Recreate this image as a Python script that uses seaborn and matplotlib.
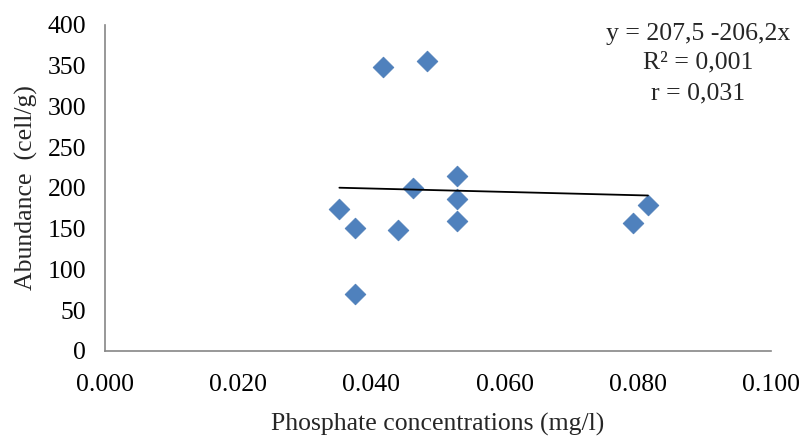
import matplotlib
matplotlib.use("Agg")
import matplotlib.pyplot as plt
import seaborn as sns
import numpy as np
import pandas as pd

phosphate = [0.0352, 0.0375, 0.0375, 0.0418, 0.0440, 0.0463, 0.0484, 0.0528, 0.0528, 0.0528, 0.0792, 0.0815]
abundance = [174, 151, 70, 348, 148, 200, 356, 215, 187, 160, 157, 179]
intercept, slope = 207.5, -206.2
eq_lines = ["y = 207,5 -206,2x", "R² = 0,001", "r = 0,031"]
x_ticks = [0.0, 0.02, 0.04, 0.06, 0.08, 0.10]
y_ticks = [0, 50, 100, 150, 200, 250, 300, 350, 400]

sns.set_style("white")
plt.rcParams['font.family'] = ['Liberation Serif', 'DejaVu Serif']

df = pd.DataFrame({"x": phosphate, "y": abundance})
fig = plt.figure(figsize=(8, 4.36), dpi=100)
ax = fig.add_axes([0.131, 0.195, 0.833, 0.748])

xl = np.array([min(phosphate), max(phosphate)])
sns.lineplot(x=xl, y=intercept + slope * xl, ax=ax, color="black", linewidth=1.3, zorder=3)
sns.scatterplot(data=df, x="x", y="y", ax=ax, marker="D", s=112, color="#4F81BD",
                edgecolor="#4A7AB5", linewidth=0.5, zorder=2)

ax.set_xlim(0, 0.1)
ax.set_ylim(0, 400)
ax.set_xticks(x_ticks)
ax.set_xticklabels([f"{v:.3f}" for v in x_ticks])
ax.set_yticks(y_ticks)
ax.set_yticklabels([str(v) for v in y_ticks])
ax.tick_params(axis="both", labelsize=18.5, labelcolor="black", length=5.5, width=1,
               direction="out", color="#868686")
ax.tick_params(axis="y", pad=8)
ax.tick_params(axis="x", pad=11)
for side in ["top", "right"]:
    ax.spines[side].set_visible(False)
for side in ["left", "bottom"]:
    ax.spines[side].set_color("#868686")
    ax.spines[side].set_linewidth(1.2)
ax.set_xlabel("Phosphate concentrations (mg/l)", fontsize=18.5, labelpad=12)
ax.set_ylabel("Abundance  (cell/g)", fontsize=18.5, labelpad=7)

ys = [0.922, 0.856, 0.786]
for t, yy in zip(eq_lines, ys):
    fig.text(0.8725, yy, t, ha="center", va="center", fontsize=18.5)

fig.savefig("out.png", dpi=100)
